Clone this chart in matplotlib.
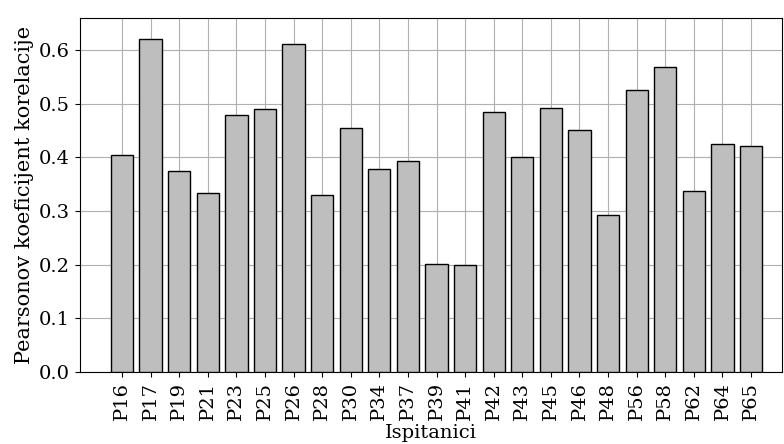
import matplotlib.pyplot as plt

ispitanici = ["P16", "P17", "P19", "P21", "P23", "P25", "P26", "P28", "P30", "P34", "P37", "P39",
              "P41", "P42", "P43", "P45", "P46", "P48", "P56", "P58", "P62", "P64", "P65"]
korelacija = [0.405, 0.620, 0.375, 0.333, 0.478, 0.490, 0.612, 0.330, 0.455, 0.378, 0.393, 0.202,
              0.200, 0.485, 0.400, 0.492, 0.450, 0.293, 0.525, 0.568, 0.337, 0.425, 0.422]

plt.rcParams['font.family'] = 'DejaVu Serif'
plt.rcParams['font.size'] = 14

fig, ax = plt.subplots(figsize=(7.84, 4.44), dpi=100)
ax.bar(ispitanici, korelacija, color='#bebebe', edgecolor='black', width=0.78, zorder=3)
ax.grid(True, color='#b0b0b0', zorder=0)
ax.set_xlim(-1.47, 23.07)
ax.set_ylim(0, 0.66)
ax.set_xlabel('Ispitanici', labelpad=3, fontsize=14)
ax.set_ylabel('Pearsonov koeficijent korelacije', fontsize=15, labelpad=4)
plt.xticks(rotation=90)
fig.subplots_adjust(left=0.102, right=0.997, top=0.96, bottom=0.162)
fig.savefig('out.png')
